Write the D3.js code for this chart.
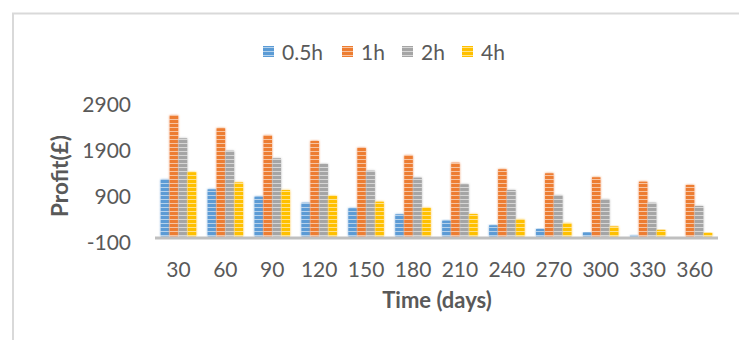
<!DOCTYPE html>
<html>
<head>
<meta charset="utf-8">
<script src="https://cdn.jsdelivr.net/npm/d3@7"></script>
<style>
  html, body { margin: 0; padding: 0; background: #fff; }
  svg { display: block; font-family: Lato, "Liberation Sans", "DejaVu Sans", sans-serif; }
</style>
</head>
<body>
<svg id="chart" width="739" height="340"></svg>
<script>
const categories = ["30","60","90","120","150","180","210","240","270","300","330","360"];
const seriesNames = ["0.5h","1h","2h","4h"];
const s05 = [1246,1028,867,736,614,484,344,244,163,87,30,0];
const s1  = [2647,2357,2211,2081,1935,1776,1608,1464,1377,1290,1194,1122];
const s2  = [2139,1869,1704,1580,1434,1281,1137,1013,904,817,736,664];
const s4  = [1399,1181,1013,882,758,627,490,375,295,222,145,77];
const seriesValues = [s05, s1, s2, s4];
const colors = ["#5b9bd5","#ed7d31","#a5a5a5","#ffc000"];
const yTicks = [-100, 900, 1900, 2900];

const svg = d3.select("#chart");
const defs = svg.append("defs");

// striped patterns
colors.forEach((c, i) => {
  const p = defs.append("pattern").attr("id", "pat" + i)
    .attr("patternUnits", "userSpaceOnUse").attr("width", 8).attr("height", 4);
  p.append("rect").attr("width", 8).attr("height", 4).attr("fill", c);
  p.append("rect").attr("y", 3).attr("width", 8).attr("height", 1).attr("fill", "#fff").attr("opacity", 0.55);
});
const f = defs.append("filter").attr("id", "glow").attr("x", "-50%").attr("y", "-10%").attr("width", "200%").attr("height", "120%");
f.append("feGaussianBlur").attr("in", "SourceGraphic").attr("stdDeviation", 0.9).attr("result", "b");
const m = f.append("feMerge");
m.append("feMergeNode").attr("in", "b");
m.append("feMergeNode").attr("in", "SourceGraphic");

// frame
svg.append("path").attr("d", "M13,340 V13.5 H739")
  .attr("fill", "none").attr("stroke", "#d9d9d9").attr("stroke-width", 2);

const x0 = d3.scaleBand().domain(categories).range([155, 718]).padding(0);
const x1 = d3.scaleBand().domain(seriesNames).range([0, x0.bandwidth()])
  .paddingInner(0.06).paddingOuter(0.635);
const y = d3.scaleLinear().domain([-100, 2900]).range([241.1, 103.4]);

// bars
const groups = svg.append("g").selectAll("g").data(categories).join("g")
  .attr("transform", d => `translate(${x0(d)},0)`);
groups.selectAll("rect")
  .data((d, ci) => seriesNames.map((s, si) => ({ s, si, v: seriesValues[si][ci] })))
  .join("rect")
  .attr("x", d => x1(d.s))
  .attr("width", x1.bandwidth())
  .attr("y", d => Math.min(y(d.v), y(0)))
  .attr("height", d => Math.abs(y(0) - y(d.v)))
  .attr("fill", d => `url(#pat${d.si})`)
  .attr("filter", "url(#glow)");

// x axis line
svg.append("line").attr("x1", 155).attr("x2", 718).attr("y1", y(0) + 1.5).attr("y2", y(0) + 1.5)
  .attr("stroke", "#bfbfbf").attr("stroke-width", 3);

// x tick labels
svg.append("g").selectAll("text").data(categories).join("text")
  .attr("x", d => x0(d) + x0.bandwidth() / 2)
  .attr("y", 277)
  .attr("text-anchor", "middle")
  .attr("font-size", 21).attr("fill", "#595959")
  .text(d => d);

// y tick labels
svg.append("g").selectAll("text").data(yTicks).join("text")
  .attr("x", 131)
  .attr("y", d => y(d) + 8.8)
  .attr("text-anchor", "end")
  .attr("font-size", 21).attr("fill", "#595959")
  .text(d => d);

// axis titles
svg.append("text").attr("x", 437).attr("y", 308).attr("text-anchor", "middle")
  .attr("font-size", 22).attr("font-weight", "bold").attr("fill", "#595959").text("Time (days)");
svg.append("text").attr("transform", "translate(68,176) rotate(-90)").attr("text-anchor", "middle")
  .attr("font-size", 22.5).attr("font-weight", "bold").attr("fill", "#595959").text("Profit(£)");

// legend
const legendX = [263, 342, 402, 462];
const lg = svg.append("g").selectAll("g").data(seriesNames).join("g")
  .attr("transform", (d, i) => `translate(${legendX[i]},0)`);
lg.append("rect").attr("x", 0).attr("y", 46).attr("width", 11).attr("height", 11)
  .attr("fill", (d, i) => `url(#pat${i})`);
lg.append("text").attr("x", 19).attr("y", 60).attr("font-size", 21).attr("fill", "#595959").text(d => d);
</script>
</body>
</html>
